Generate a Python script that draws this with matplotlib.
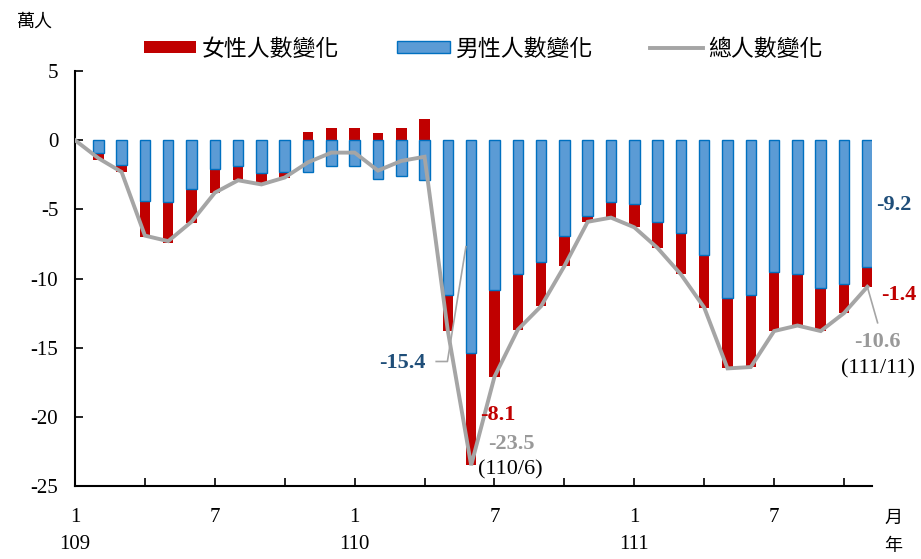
import numpy as np
import matplotlib
matplotlib.use("Agg")
import matplotlib.pyplot as plt
from matplotlib.patches import Patch
from matplotlib.lines import Line2D

plt.rcParams['font.family'] = ['Liberation Serif', 'Noto Sans CJK TC']
plt.rcParams['axes.unicode_minus'] = False
CJK = ['Noto Sans CJK TC', 'DejaVu Sans']

# 109/1 .. 111/11, unit: 萬人
female = [0, -0.5, -0.5, -2.6, -2.9, -2.5, -1.7, -1.0, -0.7, -0.4,
          0.6, 0.9, 0.9, 0.5, 0.9, 1.5, -2.6, -8.1, -6.3, -4.0,
          -3.2, -2.2, -0.4, -1.1, -1.7, -1.9, -3.0, -3.8, -5.1, -5.2,
          -4.3, -3.7, -3.1, -2.1, -1.4]
male = [0, -0.9, -1.8, -4.4, -4.5, -3.5, -2.1, -1.9, -2.4, -2.3,
        -2.3, -1.85, -1.85, -2.8, -2.6, -2.9, -11.2, -15.4, -10.8, -9.7,
        -8.8, -6.9, -5.5, -4.5, -4.6, -5.9, -6.7, -8.3, -11.4, -11.2,
        -9.5, -9.7, -10.7, -10.4, -9.2]
total = [0, -1.3, -2.3, -6.9, -7.3, -5.9, -3.8, -2.9, -3.2, -2.7,
         -1.6, -0.9, -0.9, -2.2, -1.5, -1.2, -13.8, -23.5, -17.1, -13.7,
         -12.0, -9.1, -5.9, -5.6, -6.3, -7.8, -9.7, -12.1, -16.5, -16.4,
         -13.8, -13.4, -13.8, -12.5, -10.6]
month_labels = ['1', '', '7', '', '1', '', '7', '', '1', '', '7', '']
year_labels = ['109', '110', '111']

red = '#C00000'
blue_face = '#5B9BD5'
blue_edge = '#0070C0'
gray = '#A5A5A5'
navy = '#1F4E79'

x = np.arange(len(total))
female = np.array(female)
male = np.array(male)
red_bottom = np.where(female < 0, male, 0)
w = 0.45

fig = plt.figure(figsize=(9.21, 5.59), dpi=100)
ax = fig.add_axes([75/921, 1-486/559, (872-75)/921, (486-71)/559])

ax.bar(x[1:], female[1:], w, bottom=red_bottom[1:], color=red, zorder=2)
ax.bar(x[1:], male[1:], w, color=blue_face, edgecolor=blue_edge,
       linewidth=1, zorder=2)
ax.plot(x, total, color=gray, lw=2.8, zorder=3, solid_joinstyle='miter')

ax.set_xlim(0, 34.2)
ax.set_ylim(-25, 5)
ax.set_yticks(range(-25, 6, 5))
ax.set_xticks(range(0, 34, 3))
ax.set_xticklabels(month_labels)
ax.tick_params(direction='in', length=6, width=1.2, labelsize=15)
ax.tick_params(axis='x', pad=16)
ax.tick_params(axis='y', pad=12)
for s in ['top', 'right']:
    ax.spines[s].set_visible(False)
for s in ['left', 'bottom']:
    ax.spines[s].set_linewidth(1.5)

tr = ax.get_xaxis_transform()
for i, yl in enumerate(year_labels):
    ax.text(i * 12, -0.14, yl, transform=tr, ha='center', va='center',
            fontsize=15)

fig.text(893/921, 1-518/559, '月', family=CJK, fontsize=13,
         ha='center', va='center')
fig.text(893/921, 1-546/559, '年', family=CJK, fontsize=13,
         ha='center', va='center')
fig.text(35/921, 1-22/559, '萬人', family=CJK, fontsize=13,
         ha='center', va='center')

# annotations at 110/6
ax.plot([15.5, 15.98, 17 - w/2], [-16.0, -16.0, male[17]/2],
        color=gray, lw=1.2, clip_on=False, zorder=4)
ax.text(15.04, -16.1, '-15.4', color=navy, fontsize=16, fontweight='bold',
        ha='right', va='center')
ax.text(17.39, -19.9, '-8.1', color=red, fontsize=16, fontweight='bold',
        ha='left', va='center')
ax.text(17.74, -22.0, '-23.5', color='#999999', fontsize=16,
        fontweight='bold', ha='left', va='center')
ax.text(17.3, -23.85, '(110/6)', color='black', fontsize=16,
        ha='left', va='center', clip_on=False)

# annotations at 111/11
ax.plot([34, 34.44], [total[34], -13.2], color=gray, lw=1.2,
        clip_on=False, zorder=4)
ax.text(34.36, -4.7, '-9.2', color=navy, fontsize=16, fontweight='bold',
        ha='left', va='center')
ax.text(34.6, -11.2, '-1.4', color=red, fontsize=16, fontweight='bold',
        ha='left', va='center')
ax.text(34.44, -14.6, '-10.6', color='#999999', fontsize=16,
        fontweight='bold', ha='center', va='center')
ax.text(34.44, -16.5, '(111/11)', color='black', fontsize=16,
        ha='center', va='center')

handles = [Patch(facecolor=red, edgecolor='none'),
           Patch(facecolor=blue_face, edgecolor=blue_edge, linewidth=1),
           Line2D([0], [0], color=gray, lw=2.8)]
fig.legend(handles, ['女性人數變化', '男性人數變化', '總人數變化'],
           loc='center', bbox_to_anchor=(483/921, 1-49/559), ncol=3,
           frameon=False, prop={'family': CJK, 'size': 16.5},
           handlelength=2.3, handleheight=0.45, handletextpad=0.22,
           columnspacing=2.55, borderpad=0)

fig.savefig('out.png', dpi=100)
